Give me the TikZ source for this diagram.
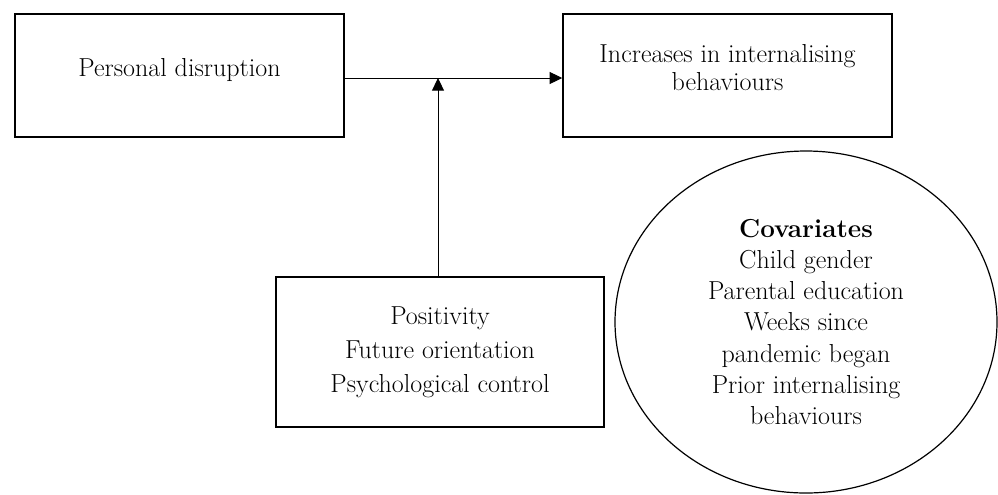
\documentclass[tikz,border=0pt]{standalone}
\usetikzlibrary{arrows.meta,shapes.geometric}
\begin{document}
\begin{tikzpicture}[x=0.75pt,y=-0.75pt,
  boxnode/.style={draw, line width=1.1pt, rectangle, inner sep=0pt},
  covnode/.style={draw, line width=0.9pt, ellipse, align=center, inner sep=0pt},
  txt/.style={align=center, inner sep=0pt},
  arr/.style={line width=0.75pt, -{Triangle[length=9.5pt,width=9pt]}}]
\useasboundingbox (0,0) rectangle (998,494);
\node[boxnode, minimum width={329*0.75pt}, minimum height={123*0.75pt},
      label={[txt, yshift=4pt, font=\fontsize{19.5}{21}\selectfont]center:Personal disruption}] (pd) at (179.5,75.5) {};
\node[boxnode, minimum width={329*0.75pt}, minimum height={123*0.75pt},
      label={[txt, yshift=6pt, font=\fontsize{19.5}{21}\selectfont]center:Increases in internalising\\behaviours}] (ib) at (727.5,75.5) {};
\node[boxnode, align=center, minimum width={328*0.75pt}, minimum height={150*0.75pt},
      font=\fontsize{19.5}{25.5}\selectfont] (mod) at (440,352) {Positivity\\Future orientation\\Psychological control};
\node[covnode, minimum width={382*0.75pt}, minimum height={342*0.75pt},
      font=\fontsize{19.5}{23.4}\selectfont] (cov) at (806,322) {\textbf{Covariates}\\Child gender\\Parental education\\Weeks since\\pandemic began\\Prior internalising\\behaviours};
\draw[arr] (pd.east |- 0,78) coordinate (s) -- (ib.west |- s);
\draw[arr] (mod.north -| 438,0) coordinate (m) -- (m |- s);
\end{tikzpicture}
\end{document}
